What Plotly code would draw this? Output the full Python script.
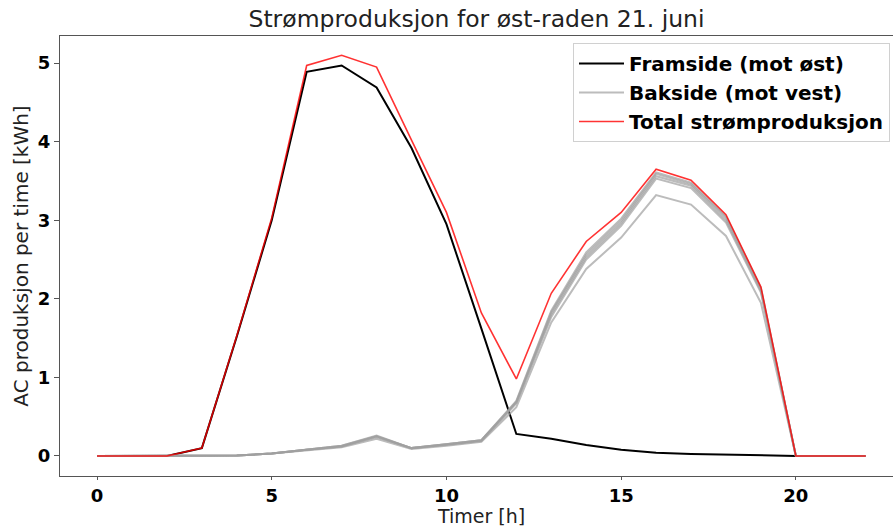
import plotly.graph_objects as go

# Hours of the day
hours = list(range(23))

# Front side (facing east), AC production per hour [kWh]
front = [0, 0, 0, 0.10, 1.52, 3.00, 4.89, 4.97, 4.69, 3.92, 2.95, 1.62, 0.28,
         0.22, 0.14, 0.08, 0.04, 0.025, 0.015, 0.005, 0, 0, 0]

# Back side (facing west), one series per panel in the row
back_1 = [0, 0, 0, 0, 0.005, 0.03, 0.08, 0.13, 0.26, 0.10, 0.15, 0.20, 0.70,
          1.85, 2.59, 3.02, 3.61, 3.48, 3.05, 2.14, 0, 0, 0]
back_2 = [0, 0, 0, 0, 0.005, 0.03, 0.08, 0.13, 0.25, 0.10, 0.15, 0.20, 0.69,
          1.83, 2.56, 2.99, 3.59, 3.46, 3.03, 2.12, 0, 0, 0]
back_3 = [0, 0, 0, 0, 0.005, 0.03, 0.08, 0.12, 0.25, 0.10, 0.15, 0.20, 0.68,
          1.80, 2.53, 2.96, 3.56, 3.44, 3.00, 2.10, 0, 0, 0]
back_4 = [0, 0, 0, 0, 0.005, 0.03, 0.08, 0.12, 0.24, 0.10, 0.14, 0.19, 0.67,
          1.77, 2.50, 2.93, 3.53, 3.41, 2.97, 2.08, 0, 0, 0]
back_5 = [0, 0, 0, 0, 0.005, 0.03, 0.07, 0.11, 0.22, 0.09, 0.13, 0.18, 0.62,
          1.70, 2.38, 2.78, 3.32, 3.20, 2.80, 1.95, 0, 0, 0]
back_series = [back_1, back_2, back_3, back_4, back_5]

# Total production
total = [0, 0, 0, 0.10, 1.53, 3.03, 4.97, 5.10, 4.95, 4.02, 3.10, 1.82, 0.98,
         2.07, 2.73, 3.10, 3.65, 3.51, 3.07, 2.15, 0, 0, 0]

x_ticks = [0, 5, 10, 15, 20]
y_ticks = [0, 1, 2, 3, 4, 5]

fig = go.Figure()

fig.add_trace(go.Scatter(
    x=hours, y=front, mode="lines", name="Framside (mot øst)",
    line=dict(color="black", width=2), legendgroup="front",
))

for i, back in enumerate(back_series):
    fig.add_trace(go.Scatter(
        x=hours, y=back, mode="lines", name="Bakside (mot vest)",
        line=dict(color="rgb(160,160,160)", width=2), opacity=0.7,
        legendgroup="back", showlegend=(i == 0),
    ))

fig.add_trace(go.Scatter(
    x=hours, y=total, mode="lines", name="Total strømproduksjon",
    line=dict(color="rgb(255,0,0)", width=1.6), opacity=0.8,
    legendgroup="total",
))

axis_line = "#555555"
tick_font = dict(family="DejaVu Sans", size=18, color="black", weight="bold")
label_font = dict(family="DejaVu Sans", size=20, color="#222222")

fig.update_layout(
    width=893, height=527,
    margin=dict(l=60, r=0, t=36, b=51),
    paper_bgcolor="white", plot_bgcolor="white",
    font=dict(family="DejaVu Sans", color="black"),
    title=dict(
        text="Strømproduksjon for øst-raden 21. juni",
        x=0.5, xref="paper", xanchor="center",
        y=1 - 19 / 527, yref="container", yanchor="middle",
        font=dict(family="DejaVu Sans", size=23.5, color="#222222"),
    ),
    xaxis=dict(
        range=[-1.06, 22.78], tickvals=x_ticks, ticktext=[str(v) for v in x_ticks],
        showgrid=False, zeroline=False,
        showline=True, linecolor=axis_line, linewidth=1, mirror=True,
        ticks="outside", ticklen=3, tickcolor=axis_line, tickfont=tick_font,
    ),
    yaxis=dict(
        range=[-0.255, 5.345], tickvals=y_ticks, ticktext=[str(v) for v in y_ticks],
        showgrid=False, zeroline=False,
        showline=True, linecolor=axis_line, linewidth=1, mirror=False,
        ticks="outside", ticklen=5, tickcolor=axis_line, tickfont=tick_font,
        title=dict(text="AC produksjon per time [kWh]", standoff=3, font=label_font),
    ),
    legend=dict(
        x=0.9964, y=0.984, xanchor="right", yanchor="top",
        bgcolor="rgba(255,255,255,0.8)", bordercolor="#d0d0d0", borderwidth=1,
        font=dict(family="DejaVu Sans", size=20, color="black", weight="bold"),
        tracegroupgap=0, itemwidth=45,
    ),
)

# x-axis title placed just below the tick labels
fig.add_annotation(
    text="Timer [h]", showarrow=False,
    x=0.505, xref="paper", xanchor="center",
    y=-0.0898, yref="paper", yanchor="middle",
    font=dict(family="DejaVu Sans", size=19, color="#222222"),
)

fig.write_html("out.html")
